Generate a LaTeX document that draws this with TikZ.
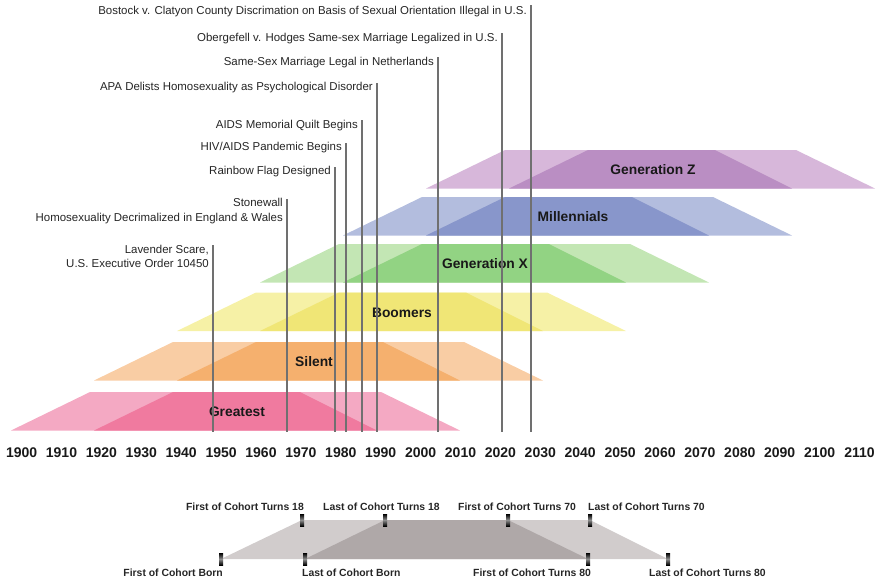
\documentclass[tikz,border=0pt]{standalone}
\usepackage{fontspec}
\setmainfont{Liberation Sans}
\definecolor{gl0}{HTML}{F4A9C3}\definecolor{gd0}{HTML}{F07A9F}
\definecolor{gl1}{HTML}{F9CDA4}\definecolor{gd1}{HTML}{F5B06E}
\definecolor{gl2}{HTML}{F6F1A6}\definecolor{gd2}{HTML}{F0E676}
\definecolor{gl3}{HTML}{C3E6B4}\definecolor{gd3}{HTML}{92D383}
\definecolor{gl4}{HTML}{B3BDDE}\definecolor{gd4}{HTML}{8896CB}
\definecolor{gl5}{HTML}{D7B7DA}\definecolor{gd5}{HTML}{BA8EC3}
\definecolor{lgl}{HTML}{D1CCCC}\definecolor{lgd}{HTML}{AFA8A8}
\definecolor{evline}{HTML}{707070}
\definecolor{evtext}{HTML}{252525}
\tikzset{
  evlabel/.style={anchor=east,inner sep=0pt,text=evtext,font=\fontsize{11.45}{13.5}\selectfont,align=right},
  evstroke/.style={draw=evline,line width=1.5pt},
  genlabel/.style={inner sep=0pt,text=black!90,font=\bfseries\fontsize{13.8}{16}\selectfont},
  yearlabel/.style={inner sep=0pt,text=black!90,font=\bfseries\fontsize{14}{16}\selectfont},
  leglabel/.style={inner sep=0pt,text=black!85,font=\bfseries\fontsize{10.4}{12}\selectfont},
  marker/.style={rectangle,inner sep=0pt,minimum width=4pt,minimum height=12pt,top color=black,bottom color=black,middle color=black!45}
}
\begin{document}
\begin{tikzpicture}[x=1pt,y=-1pt]
\path[use as bounding box] (0,0) rectangle (880,582);
% generations
\foreach \k/\nm/\ty/\lx in {0/Greatest/392/237,1/Silent/342/314,2/Boomers/292.5/402,3/Generation X/244/485,4/Millennials/197/573,5/Generation Z/150/653}{
  \pgfmathsetmacro\X{11+83*\k}
  \pgfmathsetmacro\B{\ty+38.5}
  \fill[gl\k] (\X,\B) -- ({\X+79},\ty) -- ({\X+370},\ty) -- ({\X+449},\B) -- cycle;
  \fill[gd\k] ({\X+83},\B) -- ({\X+162},\ty) -- ({\X+289},\ty) -- ({\X+366},\B) -- cycle;
  \node[genlabel] (gen\k) at (\lx,\ty+20) {\nm};
}
% event lines
\foreach \n/\ex/\et in {lav/213/245,stw/287/199,rbw/335/167,hiv/346/143,qlt/362/120,apa/377/83,ned/438/57,obg/502/33,bos/531/5}{
  \coordinate (\n top) at (\ex,\et);
  \coordinate (\n bot) at (\ex,432);
  \draw[evstroke] (\n top) -- (\n bot);
}
\node[evlabel,font=\fontsize{11.45}{13.5}\selectfont] (tlav) at (209,256.5) {Lavender Scare,\\U.S. Executive Order 10450};
\node[evlabel,font=\fontsize{11.45}{15}\selectfont] (tstw) at (283,211.5) {Stonewall\\Homosexuality Decrimalized in England \& Wales};
\node[evlabel] (trbw) at (331,172) {Rainbow Flag Designed};
\node[evlabel] (thiv) at (342,148) {HIV/AIDS Pandemic Begins};
\node[evlabel] (tqlt) at (358,126) {AIDS Memorial Quilt Begins};
\node[evlabel] (tapa) at (373,88) {APA Delists Homosexuality as Psychological Disorder};
\node[evlabel] (tned) at (434,63) {Same-Sex Marriage Legal in Netherlands};
\node[evlabel] (tobg) at (498,39) {Obergefell v. Hodges Same-sex Marriage Legalized in U.S.};
\node[evlabel] (tbos) at (527,12) {Bostock v. Clatyon County Discrimation on Basis of Sexual Orientation Illegal in U.S.};
% axis
\foreach \i in {0,...,21}{
  \pgfmathtruncatemacro\yr{1900+10*\i}
  \node[yearlabel] (yr\i) at ({21.6+39.9*\i},453) {\yr};
}
% legend
\coordinate (lbl) at (221,559); \coordinate (ltl) at (302,520);
\coordinate (ltr) at (590,520); \coordinate (lbr) at (668,559);
\coordinate (dbl) at (305,559); \coordinate (dtl) at (385,520);
\coordinate (dtr) at (508,520); \coordinate (dbr) at (588,559);
\fill[lgl] (lbl) -- (ltl) -- (ltr) -- (lbr) -- cycle;
\fill[lgd] (dbl) -- (dtl) -- (dtr) -- (dbr) -- cycle;
\node[marker] (m1) at (ltl) {};
\node[marker] (m2) at (dtl) {};
\node[marker] (m3) at (dtr) {};
\node[marker] (m4) at (ltr) {};
\node[marker] (m5) at (lbl) {};
\node[marker] (m6) at (dbl) {};
\node[marker] (m7) at (dbr) {};
\node[marker] (m8) at (lbr) {};
\node[leglabel,anchor=east] (l1) at (304,507) {First of Cohort Turns 18};
\node[leglabel,anchor=west] (l2) at (323,507) {Last of Cohort Turns 18};
\node[leglabel,anchor=west] (l3) at (458,507) {First of Cohort Turns 70};
\node[leglabel,anchor=west] (l4) at (588,507) {Last of Cohort Turns 70};
\node[leglabel,anchor=east] (l5) at (223,573) {First of Cohort Born};
\node[leglabel,anchor=west] (l6) at (302,573) {Last of Cohort Born};
\node[leglabel,anchor=west] (l7) at (473,573) {First of Cohort Turns 80};
\node[leglabel,anchor=west] (l8) at (649,573) {Last of Cohort Turns 80};
\end{tikzpicture}
\end{document}
